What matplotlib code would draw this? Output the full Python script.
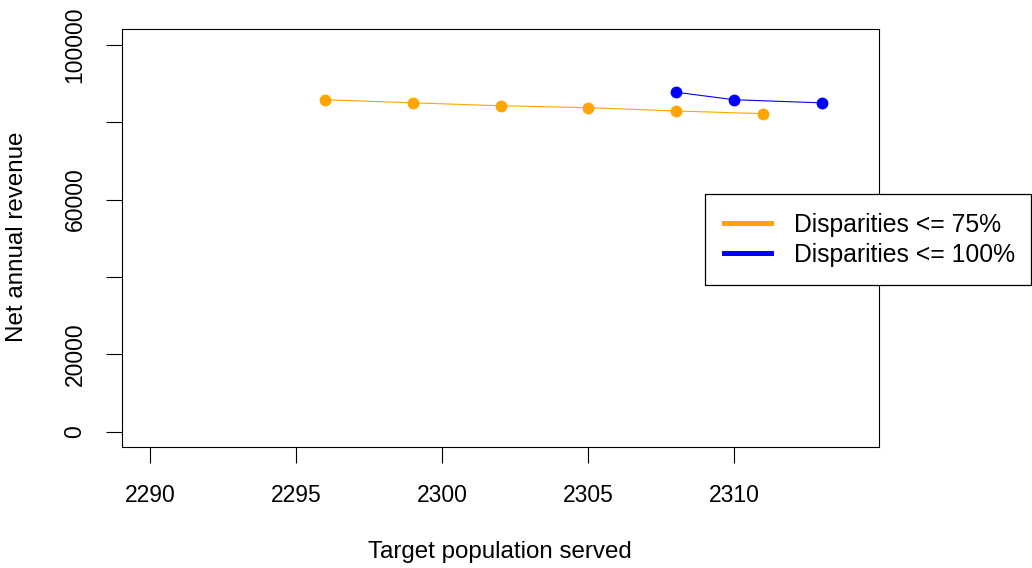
import matplotlib
matplotlib.use("Agg")
import matplotlib.pyplot as plt

# data
pop_75 = [2296, 2299, 2302, 2305, 2308, 2311]
rev_75 = [85800, 85000, 84250, 83750, 82900, 82200]
pop_100 = [2308, 2310, 2313]
rev_100 = [87750, 85800, 85000]
labels = ["Disparities <= 75%", "Disparities <= 100%"]
xticks = [2290, 2295, 2300, 2305, 2310]
yticks = [0, 20000, 40000, 60000, 80000, 100000]
ytick_labels = ["0", "20000", "", "60000", "", "100000"]

plt.rcParams['font.family'] = ['Liberation Sans', 'DejaVu Sans']

W, H = 1032, 568
fig = plt.figure(figsize=(W/100, H/100), dpi=100)
ax = fig.add_axes([122/W, 1-447.3/H, 757/W, 418/H])

ax.plot(pop_75, rev_75, color="#FFA500", lw=0.8, marker="o", ms=7.5, mec="#FFA500")
ax.plot(pop_100, rev_100, color="#0000FF", lw=0.8, marker="o", ms=7.5, mec="#0000FF")

ax.set_xlim(2289.04, 2314.96)
ax.set_ylim(-4000, 104000)
ax.set_xticks(xticks)
ax.set_xticklabels([str(t) for t in xticks])
ax.set_yticks(yticks)
ax.set_yticklabels(ytick_labels, rotation=90, va="center")
ax.tick_params(axis="both", direction="out", length=11.5, width=0.8, labelsize=16.5, colors="black")
ax.tick_params(axis="x", pad=15)
ax.tick_params(axis="y", pad=14)
for s in ax.spines.values():
    s.set_linewidth(0.8)

fig.text(500/W, 1-552/H, "Target population served", ha="center", va="center", fontsize=17.4)
fig.text(17/W, 1-237/H, "Net annual revenue", ha="center", va="center", rotation=90, fontsize=17.4)

h1, = ax.plot([], [], color="#FFA500", lw=3.6)
h2, = ax.plot([], [], color="#0000FF", lw=3.6)
leg = ax.legend([h1, h2], labels, loc="upper left", mode="expand",
                bbox_to_anchor=(705/W, 1-286/H, 326/W, 92/H), bbox_transform=fig.transFigure,
                borderaxespad=0, fontsize=17.8, handlelength=1.9, handletextpad=0.95,
                labelspacing=0.25, borderpad=0.75, fancybox=False, frameon=True, framealpha=1)
leg.get_frame().set_edgecolor("black")
leg.get_frame().set_linewidth(0.9)
leg.set_clip_on(False)

fig.savefig("out.png", dpi=100)
